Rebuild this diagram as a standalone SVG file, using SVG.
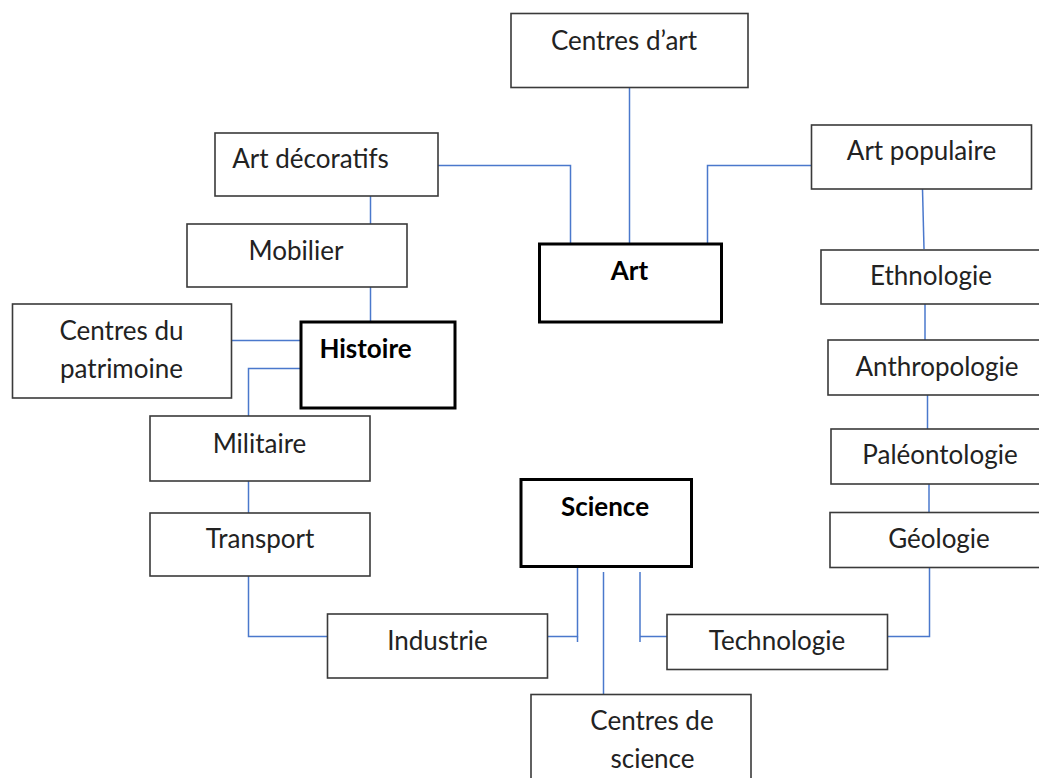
<svg xmlns="http://www.w3.org/2000/svg" width="1039" height="778" viewBox="0 0 1039 778">
<style>
.box{fill:#fff;stroke:#3a3a3a;stroke-width:1.6}
.main{fill:#fff;stroke:#000;stroke-width:3}
.t{font-family:Lato,"Open Sans","Liberation Sans",sans-serif;font-size:26px;fill:#222;text-anchor:middle}
.b{font-weight:bold;fill:#000}
.c{fill:none;stroke:#4a78cc;stroke-width:1.5}
</style>
<rect width="1039" height="778" fill="#fff"/>
<g id="connectors">
<path class="c" d="M629.5 87V244"/>
<path class="c" d="M438 165.5H570.5V244"/>
<path class="c" d="M811 165.5H707.5V244"/>
<path class="c" d="M922.5 189L924 249"/>
<path class="c" d="M925 304V340"/>
<path class="c" d="M927.5 395V429"/>
<path class="c" d="M929 484V512"/>
<path class="c" d="M929.5 567V636.5H888"/>
<path class="c" d="M370.5 196V224"/>
<path class="c" d="M370.5 287V322"/>
<path class="c" d="M232 340.5H301"/>
<path class="c" d="M301 368.5H248.5V416"/>
<path class="c" d="M248.5 481V513"/>
<path class="c" d="M248.5 576V636.5H327"/>
<path class="c" d="M548 636.5H577.5V567"/>
<path class="c" d="M577.5 636.5V642"/>
<path class="c" d="M603.5 572V694"/>
<path class="c" d="M640 572V642M640 636.5H667"/>
</g>
<g id="n-centres-art"><rect class="box" x="511" y="13.5" width="237" height="74"/><text class="t" x="624" y="50">Centres d’art</text></g>
<g id="n-art-decoratifs"><rect class="box" x="215" y="133" width="223" height="63"/><text class="t" x="310.5" y="168">Art décoratifs</text></g>
<g id="n-art-populaire"><rect class="box" x="811.5" y="125" width="220" height="64"/><text class="t" x="921.5" y="160">Art populaire</text></g>
<g id="n-art"><rect class="main" x="539.5" y="244" width="182" height="78"/><text class="t b" x="629.5" y="280">Art</text></g>
<g id="n-mobilier"><rect class="box" x="187" y="224" width="220" height="63"/><text class="t" x="296" y="260">Mobilier</text></g>
<g id="n-centres-patrimoine"><rect class="box" x="12.5" y="304" width="219" height="94"/><text class="t" x="121.5" y="340">Centres du</text><text class="t" x="121.5" y="378">patrimoine</text></g>
<g id="n-histoire"><rect class="main" x="301" y="322" width="154" height="86"/><text class="t b" x="365.5" y="358">Histoire</text></g>
<g id="n-militaire"><rect class="box" x="150" y="416" width="220" height="65"/><text class="t" x="259.5" y="453">Militaire</text></g>
<g id="n-transport"><rect class="box" x="150" y="513" width="220" height="63"/><text class="t" x="260" y="548">Transport</text></g>
<g id="n-science"><rect class="main" x="521" y="479.5" width="170.5" height="87"/><text class="t b" x="605" y="516">Science</text></g>
<g id="n-industrie"><rect class="box" x="327.5" y="614" width="220" height="64"/><text class="t" x="437.5" y="650">Industrie</text></g>
<g id="n-technologie"><rect class="box" x="667" y="614.5" width="220.5" height="55"/><text class="t" x="777" y="650">Technologie</text></g>
<g id="n-centres-science"><rect class="box" x="531" y="694.5" width="220" height="100"/><text class="t" x="652" y="730">Centres de</text><text class="t" x="652.5" y="768">science</text></g>
<g id="n-ethnologie"><rect class="box" x="821" y="250" width="240" height="54"/><text class="t" x="931" y="285">Ethnologie</text></g>
<g id="n-anthropologie"><rect class="box" x="828" y="340" width="240" height="55"/><text class="t" x="937" y="376">Anthropologie</text></g>
<g id="n-paleontologie"><rect class="box" x="831" y="429" width="240" height="55"/><text class="t" x="940" y="464">Paléontologie</text></g>
<g id="n-geologie"><rect class="box" x="830" y="512.5" width="240" height="55"/><text class="t" x="939" y="548">Géologie</text></g>
</svg>
